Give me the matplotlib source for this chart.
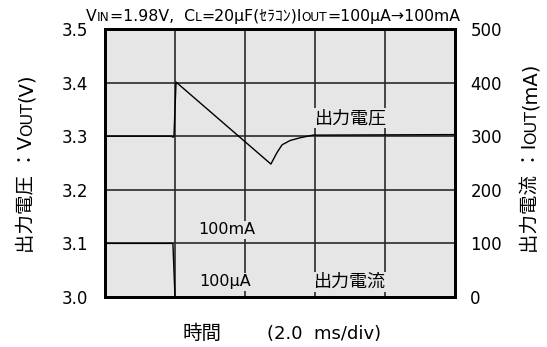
import matplotlib
matplotlib.use("Agg")
from matplotlib import pyplot as plt

plt.rcParams['font.family'] = ['DejaVu Sans', 'Noto Sans CJK JP']

# output voltage (V) vs time (ms)
time_v = [0, 1.90, 1.94, 1.97, 2.03, 4.74, 4.91, 5.06, 5.29, 5.57, 5.94, 10]
vout = [3.300, 3.300, 3.298, 3.300, 3.401, 3.248, 3.269, 3.284, 3.292, 3.297, 3.302, 3.303]

# output current (mA) vs time (ms)
time_i = [0, 1.94, 2.0, 10]
iout = [100, 100, 0, 0]

v_ticks = [3.0, 3.1, 3.2, 3.3, 3.4, 3.5]
v_labels = ["3.0", "3.1", "3.2", "3.3", "3.4", "3.5"]
i_ticks = [0, 100, 200, 300, 400, 500]
i_labels = ["0", "100", "200", "300", "400", "500"]

W, H = 547, 347
fig = plt.figure(figsize=(W / 100, H / 100), dpi=100)
ax = fig.add_axes([105 / W, 1 - 297 / H, 350 / W, 268 / H])
ax.set_facecolor("#e6e6e6")
ax.plot(time_v, vout, color="black", lw=1.0, zorder=3)
ax.set_xlim(0, 10)
ax.set_ylim(3.0, 3.5)
ax.set_xticks([0, 2, 4, 6, 8, 10])
ax.set_xticklabels([])
ax.set_yticks(v_ticks)
ax.set_yticklabels(v_labels, fontsize=12)
ax.tick_params(length=0, pad=12)
ax.grid(color="#2a2a2a", lw=1.2)
ax.set_axisbelow(True)

ax2 = ax.twinx()
ax2.plot(time_i, iout, color="black", lw=1.0, clip_on=False)
ax2.set_ylim(0, 500)
ax2.set_yticks(i_ticks)
ax2.set_yticklabels(i_labels, fontsize=12)
ax2.tick_params(length=0, pad=11)
for a in (ax, ax2):
    for s in a.spines.values():
        s.set_linewidth(2)
        s.set_color("black")

box = dict(facecolor="#e6e6e6", edgecolor="none", pad=1)
ax.text(7.03, 3.334, "出力電圧", fontsize=13, ha="center", va="center", bbox=box)
ax.text(7.0, 3.028, "出力電流", fontsize=13, ha="center", va="center", bbox=box)
ax.text(3.49, 3.125, "100mA", fontsize=11.5, ha="center", va="center", bbox=box)
ax.text(3.43, 3.028, "100μA", fontsize=11.5, ha="center", va="center", bbox=box)


def rich(x, y, pieces, rot=0):
    # pieces drawn one after another, x/y in pixels from top-left
    r = fig.canvas.get_renderer()
    px, py = x, H - y
    for s, size in pieces:
        t = fig.text(px / W, py / H, s, fontsize=size, rotation=rot,
                     rotation_mode="anchor", ha="left", va="baseline")
        bb = t.get_window_extent(r)
        if rot == 0:
            px += bb.width
        else:
            py += bb.height


rich(86, 21, [("V", 11.3), ("IN", 8.7), ("=1.98V,  C", 11.3), ("L", 8.7),
              ("=20μF(ｾﾗｺﾝ)I", 11.3), ("OUT", 8.7), ("=100μA→100mA", 11.3)])
rich(32, 253, [("出力電圧 ：V", 14), ("OUT", 11.5), ("(V)", 14)], rot=90)
rich(536, 253, [("出力電流 ：I", 14), ("OUT", 11.5), ("(mA)", 14)], rot=90)
fig.text(182 / W, 1 - 339 / H, "時間", fontsize=14, ha="left", va="baseline")
fig.text(267 / W, 1 - 339 / H, "(2.0  ms/div)", fontsize=13, ha="left", va="baseline")

fig.savefig("out.png", dpi=100)
